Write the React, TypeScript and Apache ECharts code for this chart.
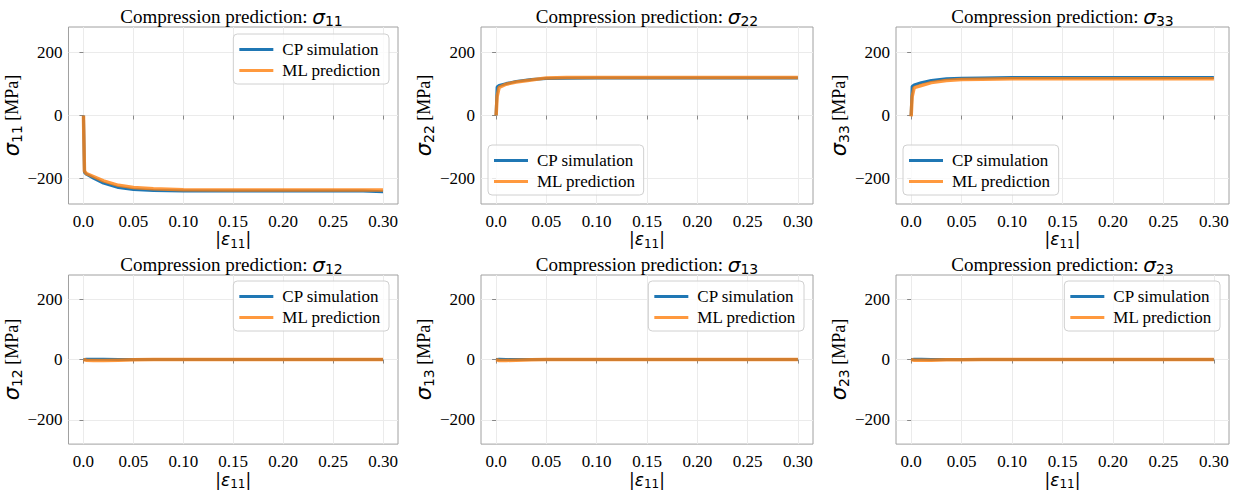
import React, { useEffect, useRef } from "react";
import * as echarts from "echarts";

const strain = [0, 0.001, 0.003, 0.01, 0.02, 0.035, 0.05, 0.07, 0.1, 0.15, 0.2, 0.25, 0.28, 0.3];

const cp11 = [0, -180, -186, -198, -214, -228, -234, -237, -239, -239, -239, -239, -239, -241];
const ml11 = [0, -176, -184, -193, -207, -221, -228, -232, -235, -236, -236, -236, -236, -236];
const cp22 = [0, 90, 95, 101, 108, 114, 117, 118, 119, 119, 119, 119, 119, 119];
const ml22 = [0, 60, 89, 99, 106, 112, 119, 120, 120, 120, 120, 120, 120, 120];
const cp33 = [0, 92, 97, 104, 111, 116, 118, 119, 120, 120, 120, 120, 120, 120];
const ml33 = [-3, 60, 88, 95, 104, 111, 114, 115, 116, 116, 116, 116, 116, 116];
const cp12 = [0, 0.5, 1, 1, 1, 0.5, 0, 0, 0, 0, 0, 0, 0, 0];
const ml12 = [0, -1, -2, -3, -3, -2, -1, 0, 0, 0, 0, 0, 0, 0];
const cp13 = [0, 0.5, 1, 0.5, 0.5, 0, 0, 0, 0, 0, 0, 0, 0, 0];
const ml13 = [0, -1, -3, -3, -2, -1, 0, 0, 0, 0, 0, 0, 0, 0];
const cp23 = [0, 0.5, 1, 1, 0.5, 0.5, 0, 0, 0, 0, 0, 0, 0, 0];
const ml23 = [0, -1, -2, -2, -2, -1, -1, 0, 0, 0, 0, 0, 0, 0];

const components = ["11", "22", "33", "12", "13", "23"];
const cpSeries = [cp11, cp22, cp33, cp12, cp13, cp23];
const mlSeries = [ml11, ml22, ml33, ml12, ml13, ml23];

const xTicks = [0, 0.05, 0.1, 0.15, 0.2, 0.25, 0.3];
const yTicks = [-200, 0, 200];

const seriesNames = ["CP simulation", "ML prediction"];

const SERIF = "'Liberation Serif', 'Times New Roman', serif";
const MATH = "'DejaVu Sans', sans-serif";
const BLUE = "#1f77b4";
const ORANGE = "rgba(255,127,14,0.8)";

const colLefts = [65, 481, 896];
const colWidths = [333, 332, 333];
const rowTops = [27, 275];
const gridH = 177;

export default function App() {
  const ref = useRef<HTMLDivElement>(null);

  useEffect(() => {
    if (!ref.current) return;
    const chart = echarts.init(ref.current, null, { renderer: "svg" });

    const grids: any[] = [];
    const xAxes: any[] = [];
    const yAxes: any[] = [];
    const series: any[] = [];
    const titles: any[] = [];
    const legends: any[] = [];

    components.forEach((comp, i) => {
      const row = Math.floor(i / 3);
      const col = i % 3;
      const left = colLefts[col];
      const width = colWidths[col];
      const top = rowTops[row];
      grids.push({
        left,
        top,
        width,
        height: gridH,
        show: true,
        borderColor: "#a0a0a0",
        borderWidth: 1,
        backgroundColor: "transparent",
        containLabel: false,
      });
      xAxes.push({
        type: "value",
        gridIndex: i,
        min: -0.015,
        max: 0.315,
        name: "|{e|ε}{b|11}|",
        nameLocation: "middle",
        nameGap: 11,
        nameTextStyle: {
          fontFamily: MATH,
          fontSize: 17,
          color: "#000",
          rich: {
            e: { fontFamily: MATH, fontStyle: "italic", fontSize: 17, color: "#000" },
            b: { fontFamily: MATH, fontSize: 12, color: "#000", padding: [9, 0, 0, 0] },
          },
        },
        axisLine: { show: false },
        axisTick: { show: true, length: 4, lineStyle: { color: "#888" }, customValues: xTicks },
        axisLabel: {
          customValues: xTicks,
          fontFamily: SERIF,
          fontSize: 17,
          color: "#000",
          margin: 9,
          formatter: (v: number) => (v === 0 ? "0.0" : v.toFixed(2)),
        },
        splitLine: { show: true, lineStyle: { color: "#ebebeb", width: 1 } },
      });
      yAxes.push({
        type: "value",
        gridIndex: i,
        min: -280,
        max: 280,
        name: `{s|σ}{b|${comp}} [MPa]`,
        nameLocation: "middle",
        nameRotate: 90,
        nameGap: 29,
        nameTextStyle: {
          fontFamily: SERIF,
          fontSize: 18,
          color: "#000",
          rich: {
            s: { fontFamily: MATH, fontStyle: "italic", fontSize: 21, color: "#000" },
            b: { fontFamily: MATH, fontSize: 14, color: "#000", padding: [10, 0, 0, 0] },
          },
        },
        axisLine: { show: false },
        axisTick: { show: true, length: 4, lineStyle: { color: "#888" }, customValues: yTicks },
        axisLabel: {
          customValues: yTicks,
          fontFamily: SERIF,
          fontSize: 17,
          color: "#000",
          margin: 6,
          formatter: (v: number) => (v < 0 ? "\u2212" + Math.abs(v) : String(v)),
        },
        splitLine: { show: true, lineStyle: { color: "#ebebeb", width: 1 } },
      });
      series.push({
        type: "line",
        name: seriesNames[0],
        xAxisIndex: i,
        yAxisIndex: i,
        data: strain.map((x, k) => [x, cpSeries[i][k]]),
        showSymbol: false,
        symbol: "none",
        lineStyle: { color: BLUE, width: 3 },
        itemStyle: { color: BLUE },
        z: 2,
      });
      series.push({
        type: "line",
        name: seriesNames[1],
        xAxisIndex: i,
        yAxisIndex: i,
        data: strain.map((x, k) => [x, mlSeries[i][k]]),
        showSymbol: false,
        symbol: "none",
        lineStyle: { color: ORANGE, width: 3.5 },
        itemStyle: { color: ORANGE },
        z: 3,
      });
      titles.push({
        text: `Compression prediction: {s|σ}{b|${comp}}`,
        left: left + width / 2,
        textAlign: "center",
        top: top - 22,
        padding: 0,
        textStyle: {
          fontFamily: SERIF,
          fontSize: 19,
          fontWeight: "normal",
          color: "#000",
          rich: {
            s: { fontFamily: MATH, fontStyle: "italic", fontSize: 20, color: "#000" },
            b: { fontFamily: MATH, fontSize: 14, color: "#000", padding: [9, 0, 0, 0] },
          },
        },
      });
      const upperRight = i === 0 || row === 1;
      const legendPos: any = upperRight
        ? { right: 1235 - (left + width - 9), top: top + (row === 0 ? 7 : 6) }
        : { left: left + 7, top: top + 118 };
      legends.push({
        ...legendPos,
        orient: "vertical",
        data: seriesNames,
        icon: "rect",
        itemWidth: 34,
        itemHeight: 3,
        itemGap: 4,
        padding: [7, 8, 5, 6],
        backgroundColor: "rgba(255,255,255,0.8)",
        borderColor: "#d0d0d0",
        borderWidth: 1,
        borderRadius: 4,
        selectedMode: false,
        textStyle: { fontFamily: SERIF, fontSize: 17, color: "#000", padding: [0, 0, 0, 4] },
      });
    });

    chart.setOption({
      animation: false,
      backgroundColor: "#fff",
      title: titles,
      legend: legends,
      grid: grids,
      xAxis: xAxes,
      yAxis: yAxes,
      series,
    });

    return () => chart.dispose();
  }, []);

  return (
    <div
      ref={ref}
      style={{ position: "fixed", left: 0, top: 0, width: 1235, height: 491 }}
    />
  );
}
